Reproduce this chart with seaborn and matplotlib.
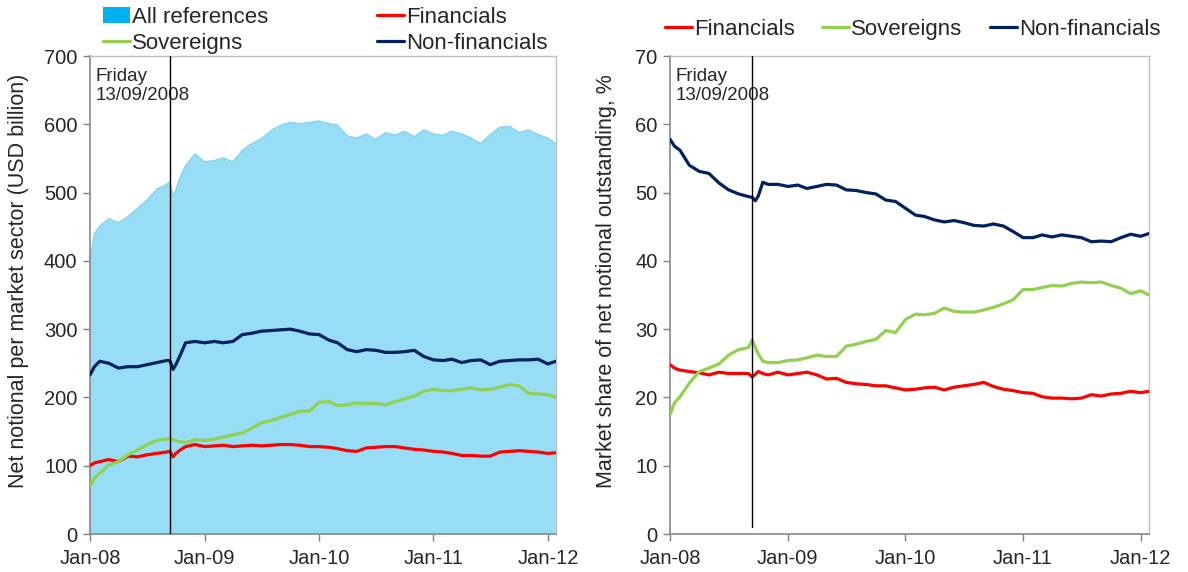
import seaborn as sns
import pandas as pd
import matplotlib.pyplot as plt
import matplotlib.dates as mdates
from matplotlib.patches import Patch
from matplotlib.lines import Line2D

# dates: 2008 with extra points round Lehman, then monthly to Jan-12
dates_2008 = ["2008-01-01", "2008-01-15", "2008-02-01", "2008-03-01", "2008-04-01",
              "2008-05-01", "2008-06-01", "2008-07-01", "2008-08-01", "2008-09-01",
              "2008-09-12", "2008-09-22", "2008-10-01", "2008-10-15", "2008-11-01",
              "2008-12-01"]
dates_later = [d.strftime("%Y-%m-%d") for d in pd.date_range("2009-01-01", "2012-01-01", freq="MS")]
dates = pd.to_datetime(dates_2008 + dates_later + ["2012-01-27"])

# left panel, USD billion
all_refs = [401, 440, 451, 462, 456, 465, 477, 489, 505, 512, 516, 494, 504, 523, 540, 557,
            545, 547, 551, 545, 562, 572, 579, 591, 599, 603, 601, 603,
            605, 601, 599, 583, 580, 586, 578, 588, 584, 590, 582, 592,
            586, 584, 590, 586, 580, 572, 585, 596, 597, 588, 592, 585,
            580, 572]
nonfin_usd = [233, 245, 253, 250, 243, 245, 245, 248, 251, 254, 254, 241, 248, 262, 280, 282,
              280, 282, 280, 282, 292, 294, 297, 298, 299, 300, 297, 293,
              292, 284, 280, 270, 267, 270, 269, 266, 266, 267, 269, 260,
              255, 254, 256, 251, 254, 255, 248, 253, 254, 255, 255, 256,
              249, 253]
sov_usd = [70, 82, 89, 101, 106, 116, 123, 131, 137, 139, 139, 138, 137, 135, 134, 138,
           137, 139, 142, 145, 148, 155, 163, 166, 171, 175, 180, 180,
           193, 194, 188, 189, 192, 191, 191, 189, 194, 198, 202, 209,
           212, 210, 210, 212, 214, 211, 212, 215, 219, 217, 206, 205,
           204, 200]
fin_usd = [100, 104, 106, 109, 106, 114, 113, 116, 118, 120, 121, 113, 118, 123, 128, 131,
           128, 129, 130, 128, 129, 130, 129, 130, 131, 131, 130, 128,
           128, 127, 125, 122, 121, 126, 127, 128, 128, 126, 124, 123,
           121, 120, 118, 115, 115, 114, 114, 120, 121, 122, 121, 120,
           118, 119]

# right panel, market share %
nonfin_pct = [57.8, 56.8, 56.2, 54.0, 53.1, 52.8, 51.4, 50.4, 49.8, 49.4, 49.3, 48.8, 49.5, 51.5, 51.2, 51.2,
              50.9, 51.1, 50.6, 50.9, 51.2, 51.1, 50.4, 50.3, 50.0, 49.8, 48.9, 48.7,
              47.7, 46.7, 46.5, 46.0, 45.7, 45.9, 45.6, 45.2, 45.1, 45.4, 45.1, 44.3,
              43.4, 43.4, 43.8, 43.5, 43.8, 43.6, 43.4, 42.8, 42.9, 42.8, 43.4, 43.9,
              43.6, 44.0]
sov_pct = [17.5, 19.2, 20.1, 22.1, 23.8, 24.3, 24.9, 26.2, 27.0, 27.3, 28.4, 27.3, 26.4, 25.3, 25.1, 25.1,
           25.4, 25.5, 25.8, 26.2, 26.0, 26.0, 27.5, 27.8, 28.2, 28.5, 29.8, 29.5,
           31.4, 32.2, 32.1, 32.3, 33.1, 32.6, 32.5, 32.5, 32.8, 33.2, 33.7, 34.3,
           35.8, 35.8, 36.1, 36.4, 36.3, 36.7, 36.9, 36.8, 36.9, 36.4, 36.0, 35.2,
           35.6, 35.0]
fin_pct = [24.8, 24.3, 24.0, 23.8, 23.6, 23.3, 23.7, 23.5, 23.5, 23.5, 23.0, 23.4, 23.8, 23.5, 23.3, 23.7,
           23.3, 23.5, 23.7, 23.3, 22.7, 22.8, 22.2, 22.0, 21.9, 21.7, 21.7, 21.4,
           21.1, 21.2, 21.4, 21.5, 21.1, 21.5, 21.7, 21.9, 22.2, 21.6, 21.2, 21.0,
           20.7, 20.6, 20.1, 19.9, 19.9, 19.8, 19.9, 20.4, 20.2, 20.5, 20.6, 20.9,
           20.7, 20.9]

sectors = ["Financials", "Sovereigns", "Non-financials"]
colors = {"Financials": "#FF0000", "Sovereigns": "#92D050", "Non-financials": "#002060"}
event_date = pd.Timestamp("2008-09-12")
event_text = "Friday\n13/09/2008"

left = pd.DataFrame({"date": dates, "Financials": fin_usd, "Sovereigns": sov_usd,
                     "Non-financials": nonfin_usd})
left = left.melt(id_vars="date", var_name="sector", value_name="value")
right = pd.DataFrame({"date": dates, "Financials": fin_pct, "Sovereigns": sov_pct,
                      "Non-financials": nonfin_pct})
right = right.melt(id_vars="date", var_name="sector", value_name="value")

sns.set_style("white")
plt.rcParams["font.family"] = ["Liberation Sans", "DejaVu Sans"]

fig = plt.figure(figsize=(11.88, 5.72), dpi=100)
ax1 = fig.add_axes([90 / 1188, 38 / 572, 466 / 1188, 478 / 572])
ax2 = fig.add_axes([670 / 1188, 38 / 572, 479 / 1188, 478 / 572])

# left: area + lines
ax1.fill_between(dates, all_refs, 0, color="#97DDF5", edgecolor="none", zorder=1)
ax1.plot(dates, all_refs, color="#80D0F0", lw=0.8, zorder=2)
sns.lineplot(data=left, x="date", y="value", hue="sector", hue_order=sectors,
             palette=colors, linewidth=2.3, legend=False, ax=ax1, zorder=3)
ax1.axvline(event_date, color="black", lw=1, zorder=4)
ax1.set_ylim(0, 700)
ax1.set_yticks(range(0, 701, 100))
ax1.set_ylabel("Net notional per market sector (USD billion)", fontsize=15.5)
ax1.yaxis.set_label_coords(-0.13, 0.53)

# right: lines only
sns.lineplot(data=right, x="date", y="value", hue="sector", hue_order=sectors,
             palette=colors, linewidth=2.3, legend=False, ax=ax2, zorder=3)
ax2.axvline(event_date, ymin=0.015, color="black", lw=1, zorder=4)
ax2.set_ylim(0, 70)
ax2.set_yticks(range(0, 71, 10))
ax2.set_ylabel("Market share of net notional outstanding, %", fontsize=15.5)
ax2.yaxis.set_label_coords(-0.11, 0.53)

for ax in (ax1, ax2):
    ax.set_xlim(dates[0], dates[-1])
    ax.xaxis.set_major_locator(mdates.YearLocator())
    ax.xaxis.set_major_formatter(mdates.DateFormatter("%b-%y"))
    ax.set_xlabel("")
    ax.tick_params(axis="both", labelsize=14.5, direction="out", length=5, width=1,
                   color="#808080", pad=4)
    ax.tick_params(axis="x", pad=6)
    ax.tick_params(left=True, bottom=True)
    for s in ("left", "bottom"):
        ax.spines[s].set_color("#888888")
        ax.spines[s].set_linewidth(1.2)
    for s in ("top", "right"):
        ax.spines[s].set_color("#C0C0C0")
        ax.spines[s].set_linewidth(1)
    ax.text(0.012, 0.975, event_text, transform=ax.transAxes, ha="left", va="top",
            fontsize=13.5, linespacing=1.15)

# legends
h_all = Patch(facecolor="#00B0F0", edgecolor="none")
h = {k: Line2D([], [], color=c, lw=2.3) for k, c in colors.items()}
fig.legend([h_all, h["Sovereigns"], h["Financials"], h["Non-financials"]],
           ["All references", "Sovereigns", "Financials", "Non-financials"],
           loc="upper left", bbox_to_anchor=(103 / 1188, 1 - 7 / 572), ncol=2, frameon=False,
           fontsize=16, handlelength=1.2, handleheight=0.7, handletextpad=0.1,
           columnspacing=4.9, labelspacing=0.22, borderpad=0, borderaxespad=0)
fig.legend([h["Financials"], h["Sovereigns"], h["Non-financials"]], sectors,
           loc="upper left", bbox_to_anchor=(665 / 1188, 1 - 19 / 572), ncol=3, frameon=False,
           fontsize=16, handlelength=1.2, handletextpad=0.1, columnspacing=1.25,
           borderpad=0, borderaxespad=0)

fig.savefig("out.png", dpi=100)
